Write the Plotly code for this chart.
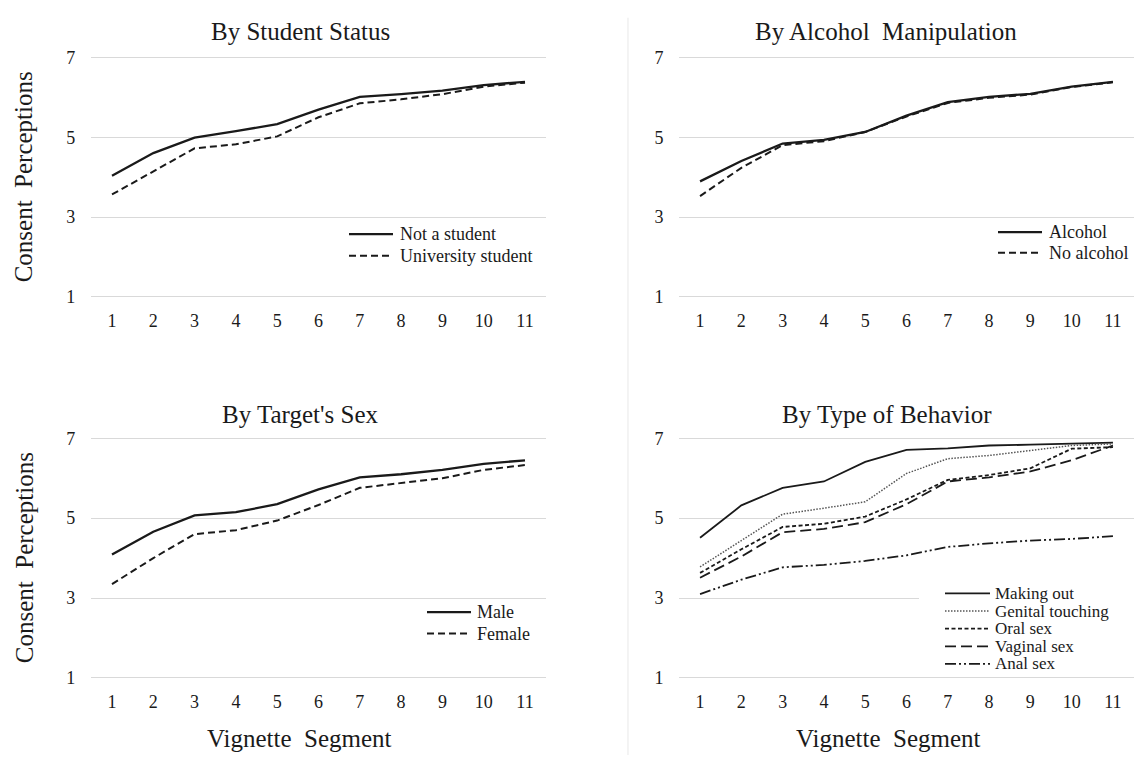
import plotly.graph_objects as go

# ---------------- data ----------------
segments = list(range(1, 12))
y_ticks = [1, 3, 5, 7]

not_student = [4.04, 4.61, 5.00, 5.16, 5.34, 5.70, 6.02, 6.09, 6.18, 6.32, 6.40]
univ_student = [3.57, 4.16, 4.73, 4.83, 5.03, 5.51, 5.86, 5.96, 6.09, 6.28, 6.38]

alcohol = [3.90, 4.41, 4.85, 4.94, 5.14, 5.55, 5.89, 6.02, 6.10, 6.28, 6.40]
no_alcohol = [3.53, 4.24, 4.81, 4.91, 5.14, 5.53, 5.87, 6.00, 6.08, 6.27, 6.39]

male = [4.09, 4.66, 5.07, 5.15, 5.35, 5.72, 6.02, 6.10, 6.21, 6.36, 6.45]
female = [3.35, 4.00, 4.60, 4.70, 4.94, 5.33, 5.76, 5.88, 6.00, 6.21, 6.33]

making_out = [4.51, 5.32, 5.76, 5.92, 6.41, 6.71, 6.75, 6.82, 6.84, 6.86, 6.89]
genital_touching = [3.78, 4.45, 5.10, 5.25, 5.41, 6.12, 6.49, 6.57, 6.70, 6.82, 6.86]
oral_sex = [3.63, 4.22, 4.78, 4.86, 5.04, 5.47, 5.96, 6.08, 6.25, 6.74, 6.78]
vaginal_sex = [3.51, 4.04, 4.65, 4.73, 4.90, 5.35, 5.92, 6.02, 6.17, 6.45, 6.82]
anal_sex = [3.10, 3.46, 3.77, 3.83, 3.93, 4.07, 4.28, 4.37, 4.44, 4.48, 4.55]

panel_titles = ["By Student Status", "By Alcohol\u00a0 Manipulation",
                "By Target's Sex", "By Type of Behavior"]
y_title = "Consent\u00a0 Perceptions"
x_title = "Vignette\u00a0 Segment"

# ---------------- styling ----------------
W, H = 1134, 763
FONT = "Liberation Serif, Times New Roman, serif"
INK = "#1a1a1a"
GRID = "#d9d9d9"


def px(x):
    return x / W


def py(y):
    return 1 - y / H


SOLID = "solid"
DASH_MED = "7px,4px"
DASH_SHORT = "4px,2.5px"
DASH_LONG = "11px,5px"
DASH_DOTDOT = "11px,3px,2px,3px,2px,3px"
DOTTED = "1.5px,1.5px"

panels = [
    ("x", "y", [("Not a student", not_student, SOLID, INK, 2.3),
                ("University student", univ_student, DASH_MED, INK, 2.0)]),
    ("x2", "y2", [("Alcohol", alcohol, SOLID, INK, 2.3),
                  ("No alcohol", no_alcohol, DASH_MED, INK, 2.0)]),
    ("x3", "y3", [("Male", male, SOLID, INK, 2.3),
                  ("Female", female, DASH_MED, INK, 2.0)]),
    ("x4", "y4", [("Making out", making_out, SOLID, INK, 1.8),
                  ("Genital touching", genital_touching, DOTTED, "#555555", 1.5),
                  ("Oral sex", oral_sex, DASH_SHORT, INK, 1.8),
                  ("Vaginal sex", vaginal_sex, DASH_LONG, INK, 1.8),
                  ("Anal sex", anal_sex, DASH_DOTDOT, INK, 1.8)]),
]

fig = go.Figure()
for xa, ya, series in panels:
    for name, vals, dash, color, width in series:
        fig.add_trace(go.Scatter(
            x=segments, y=vals, mode="lines", name=name,
            line=dict(color=color, width=width, dash=dash),
            xaxis=xa, yaxis=ya, showlegend=False, hoverinfo="x+y+name"))

# plot-area pixel boxes
left_x = [91.35, 545.65]
right_x = [679.4, 1133.6]
top_y = [49.0, 297.0]
bot_y = [437.5, 686.3]

layout_axes = {}
boxes = {"": (left_x, top_y), "2": (right_x, top_y),
         "3": (left_x, bot_y), "4": (right_x, bot_y)}
for k, (bx, by) in boxes.items():
    layout_axes["xaxis" + k] = dict(
        domain=[px(bx[0]), px(bx[1])], range=[0.5, 11.5],
        anchor="y" + k, tickvals=segments, showgrid=False, zeroline=False,
        showline=False, ticks="", ticklabelstandoff=9,
        tickfont=dict(family=FONT, size=18, color=INK), fixedrange=True)
    layout_axes["yaxis" + k] = dict(
        domain=[py(by[1]), py(by[0])], range=[0.95, 7.05],
        anchor="x" + k, tickvals=y_ticks, showgrid=True, gridcolor=GRID,
        gridwidth=1.3, zeroline=False, showline=False, ticks="",
        ticklabelstandoff=15,
        tickfont=dict(family=FONT, size=18, color=INK), fixedrange=True)

annotations = []


def text(x, y, s, size, angle=0, xanchor="center"):
    annotations.append(dict(
        x=px(x), y=py(y), xref="paper", yref="paper", text=s,
        showarrow=False, textangle=angle, xanchor=xanchor, yanchor="middle",
        font=dict(family=FONT, size=size, color=INK)))


# panel titles
text(300, 24, panel_titles[0], 25)
text(886, 24, panel_titles[1], 25)
text(300, 415, panel_titles[2], 25)
text(887, 415, panel_titles[3], 25)
# axis titles
text(23, 173, y_title, 25, angle=-90)
text(24, 562, y_title, 25, angle=-90)
text(299, 746, x_title, 25)
text(888, 746, x_title, 25)

shapes = []
# faint separator between the columns
shapes.append(dict(type="line", xref="paper", yref="paper",
                   x0=px(628), x1=px(628), y0=py(10), y1=py(763),
                   line=dict(color="#ececec", width=1.2)))
# white legend background in the behaviour panel
shapes.append(dict(type="rect", xref="paper", yref="paper",
                   x0=px(919), x1=px(1134), y0=py(680), y1=py(588),
                   fillcolor="white", line=dict(width=0), layer="above"))


def legend(series, x0, x1, xt, ys, size):
    for (name, vals, dash, color, width), yy in zip(series, ys):
        shapes.append(dict(type="line", xref="paper", yref="paper",
                           x0=px(x0), x1=px(x1), y0=py(yy), y1=py(yy),
                           line=dict(color=color, width=width, dash=dash)))
        text(xt, yy, name, size, xanchor="left")


legend(panels[0][2], 349, 393, 398, [231, 253], 18)
legend(panels[1][2], 998, 1042, 1047, [229, 250], 18)
legend(panels[2][2], 427, 471, 475, [617, 639], 18)
legend(panels[3][2], 945, 990, 993, [598, 616, 634, 652, 670], 17)

fig.update_layout(
    width=W, height=H, autosize=False,
    margin=dict(l=0, r=0, t=0, b=0),
    paper_bgcolor="white", plot_bgcolor="white",
    showlegend=False, annotations=annotations, shapes=shapes,
    **layout_axes)

fig.write_html(
    "out.html",
    config={"displayModeBar": False},
    post_script="document.body.style.margin='0';"
                "document.body.style.overflow='hidden';")
